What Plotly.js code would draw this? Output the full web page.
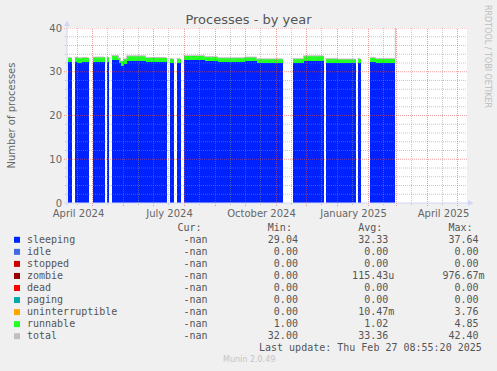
<!DOCTYPE html>
<html><head><meta charset="utf-8">
<script src="https://cdn.plot.ly/plotly-3.0.1.min.js"></script>
<style>html,body{margin:0;padding:0;background:#f0f0f0;}#chart{width:497px;height:371px;}</style>
</head><body><div id="chart"></div>
<script>
// ---------- data ----------
const chunkStart = ['2024-04-06','2024-04-13','2024-04-16','2024-04-20','2024-05-01','2024-05-15',
  '2024-05-20','2024-05-27','2024-05-29','2024-06-01','2024-06-04','2024-06-23','2024-07-17','2024-07-24',
  '2024-07-31','2024-08-21','2024-09-03','2024-09-30','2024-10-12','2024-11-17','2024-11-28','2024-12-20',
  '2025-01-01','2025-01-21','2025-02-02','2025-02-08'];
const chunkEnd = ['2024-04-10','2024-04-16','2024-04-20','2024-04-27','2024-05-13','2024-05-17',
  '2024-05-27','2024-05-29','2024-06-01','2024-06-04','2024-06-23','2024-07-14','2024-07-21','2024-07-28',
  '2024-08-21','2024-09-03','2024-09-30','2024-10-12','2024-11-07','2024-11-28','2024-12-18','2025-01-01',
  '2025-01-19','2025-01-24','2025-02-08','2025-02-27 20:00'];
const sleeping = [32.20,32.25,31.95,32.20,32.25,32.30,32.60,32.00,31.30,31.80,32.55,32.20,32.00,32.00,
  32.65,32.45,32.20,32.35,31.95,32.00,32.55,32.00,31.90,32.00,32.20,31.90];
const runnable = [1.05,1.05,1.25,1.05,1.10,1.00,1.05,1.10,1.10,1.10,1.05,1.05,1.00,1.00,
  1.05,1.00,1.00,1.00,1.00,1.00,1.05,1.00,1.00,1.00,1.05,1.00];
const total = [33.25,33.30,33.20,33.25,33.35,33.30,33.70,33.15,32.45,32.95,33.65,33.25,33.00,33.00,
  33.75,33.45,33.20,33.35,32.95,33.00,33.65,33.00,32.90,33.00,33.30,33.05];
const totalSpikeTime = '2025-02-27 20:00';
const totalSpikeValue = 42.40;

const xTickVals = ['2024-04-17','2024-07-17','2024-10-17','2025-01-17','2025-04-17'];
const xTickText = ['April 2024','July 2024','October 2024','January 2025','April 2025'];
const yTickVals = [0,10,20,30,40];
const yTickText = ['0','10','20','30','40'];

const legendLabels = ['sleeping','idle','stopped','zombie','dead','paging','uninterruptible','runnable','total'];
const legendColors = ['#0022ff','#4169e1','#cc0000','#990000','#ff0000','#00aaaa','#ffa500','#22ff22','#c0c0c0'];
const curVals = ['-nan','-nan','-nan','-nan','-nan','-nan','-nan','-nan','-nan'];
const minVals = ['29.04','0.00','0.00','0.00','0.00','0.00','0.00','1.00','32.00'];
const avgVals = ['32.33','0.00','0.00','115.43u','0.00','0.00','10.47m','1.02','33.36'];
const maxVals = ['37.64','0.00','0.00','976.67m','0.00','0.00','3.76','4.85','42.40'];
const headers = ['Cur:','Min:','Avg:','Max:'];
const lastUpdate = 'Last update: Thu Feb 27 08:55:20 2025';
const footer = 'Munin 2.0.49';
const sideText = 'RRDTOOL / TOBI OETIKER';

// ---------- layout geometry ----------
const W = 497, H = 371, ML = 67, MR = 30, MT = 28, MB = 168;
const PW = W - ML - MR, PH = H - MT - MB;
const xp = px => (px - ML) / PW;
const yp = py => (MT + PH - py) / PH;
const toMs = s => Date.parse((s.length === 10 ? s + 'T00:00' : s.replace(' ', 'T')) + ':00Z');
const X0 = '2024-04-05 12:00', X1 = '2025-05-10 12:00';

// ---------- traces ----------
const widths = chunkStart.map((s, i) => toMs(chunkEnd[i]) - toMs(s));
const barBase = {type: 'bar', x: chunkStart, width: widths, offset: 0, hoverinfo: 'skip', showlegend: false};
const tSleep = Object.assign({}, barBase, {y: sleeping, name: 'sleeping', marker: {color: legendColors[0], line: {width: 0}}});
const tRun = Object.assign({}, barBase, {y: runnable, name: 'runnable', marker: {color: legendColors[7], line: {width: 0}}});

const tx = [], ty = [];
chunkStart.forEach((s, i) => {
  tx.push(s); ty.push(total[i]);
  const last = i === chunkStart.length - 1;
  if (last || toMs(chunkEnd[i]) < toMs(chunkStart[i + 1])) {
    tx.push(chunkEnd[i]); ty.push(total[i]);
    if (!last) { tx.push(chunkEnd[i]); ty.push(null); }
  }
});
tx.push(totalSpikeTime); ty.push(totalSpikeValue);
const tTotal = {type: 'scatter', mode: 'lines', x: tx, y: ty, connectgaps: false,
  line: {color: legendColors[8], width: 1, shape: 'hv'}, hoverinfo: 'skip', showlegend: false};

// ---------- grid (drawn above the data, like rrdtool) ----------
const shapes = [];
const MAJ = 'rgba(222,79,79,0.55)', MIN = 'rgba(143,143,143,0.5)', AXC = '#cfd6f8';
const d0 = new Date(toMs(X0)), d1 = new Date(toMs(X1));
for (let y = d0.getUTCFullYear(), m = d0.getUTCMonth(); ; m++) {
  const first = Date.UTC(y, m, 1), mid = Date.UTC(y, m, 16);
  if (first > d1.getTime()) break;
  if (mid >= d0.getTime() && mid <= d1.getTime())
    shapes.push({type: 'line', layer: 'above', xref: 'x', yref: 'paper', x0: mid, x1: mid, y0: yp(MT + PH + 2), y1: 1,
      line: {color: MIN, width: 1, dash: '1px,1px'}});
  if (first >= d0.getTime())
    shapes.push({type: 'line', layer: 'above', xref: 'x', yref: 'paper', x0: first, x1: first, y0: yp(MT + PH + 3), y1: 1,
      line: {color: MAJ, width: 1, dash: '1px,1px'}});
}
for (let v = 2; v <= 40; v += 2) {
  const major = v % 10 === 0;
  shapes.push({type: 'line', layer: 'above', xref: 'paper', yref: 'y', x0: xp(ML - (major ? 3 : 2)), x1: 1, y0: v, y1: v,
    line: {color: major ? MAJ : MIN, width: 1, dash: '1px,1px'}});
}
// axes with arrows
shapes.push({type: 'line', layer: 'above', xref: 'paper', yref: 'paper', x0: xp(67), x1: xp(67), y0: yp(MT + PH + 3), y1: yp(25),
  line: {color: AXC, width: 1}});
shapes.push({type: 'path', layer: 'above', xref: 'paper', yref: 'paper',
  path: `M${xp(64)},${yp(26)} L${xp(67)},${yp(20.5)} L${xp(70)},${yp(26)} Z`, fillcolor: AXC, line: {color: AXC, width: 0}});
shapes.push({type: 'line', layer: 'above', xref: 'paper', yref: 'paper', x0: xp(64), x1: xp(469), y0: 0, y1: 0,
  line: {color: AXC, width: 1}});
shapes.push({type: 'path', layer: 'above', xref: 'paper', yref: 'paper',
  path: `M${xp(468)},${yp(200)} L${xp(473.5)},${yp(203)} L${xp(468)},${yp(206)} Z`, fillcolor: AXC, line: {color: AXC, width: 0}});

// ---------- legend (rrdtool style) ----------
const NB = '\u00A0';
function buildRow(label, vals, ends) {
  let s = label;
  vals.forEach((v, i) => {
    let num = v, suf = ' ';
    if (v !== '-nan' && /[a-z]$/.test(v)) { num = v.slice(0, -1); suf = v.slice(-1); }
    s = s.padEnd(ends[i] - num.length, ' ') + num + suf;
  });
  return s.replace(/ /g, NB);
}
const mono = {family: 'DejaVu Sans Mono', size: 10, color: '#555555'};
const annotations = [];
const textX = 26.2;
annotations.push({xref: 'paper', yref: 'paper', x: xp(textX), y: yp(227.3), xanchor: 'left', yanchor: 'middle',
  text: buildRow('', headers, [29, 44, 59, 74]).replace(/\u00A0+$/, ''), showarrow: false, borderpad: 0, font: mono});
legendLabels.forEach((lab, i) => {
  const cy = 239.3 + 12.05 * i;
  annotations.push({xref: 'paper', yref: 'paper', x: xp(textX), y: yp(cy), xanchor: 'left', yanchor: 'middle',
    text: buildRow(lab, [curVals[i], minVals[i], avgVals[i], maxVals[i]], [30, 45, 60, 75]),
    showarrow: false, borderpad: 0, font: mono});
  shapes.push({type: 'rect', xref: 'paper', yref: 'paper', x0: xp(14), x1: xp(20), y0: yp(cy + 3.5), y1: yp(cy - 2.5),
    fillcolor: legendColors[i], line: {width: 0}});
});
annotations.push({xref: 'paper', yref: 'paper', x: xp(482.7), y: yp(347.7), xanchor: 'right', yanchor: 'middle',
  text: lastUpdate, showarrow: false, borderpad: 0, font: mono});
annotations.push({xref: 'paper', yref: 'paper', x: xp(249), y: yp(359.3), xanchor: 'center', yanchor: 'middle',
  text: footer, showarrow: false, borderpad: 0, font: {family: 'DejaVu Sans', size: 8, color: '#c4c4c4'}});
annotations.push({xref: 'paper', yref: 'paper', x: xp(11), y: yp(115.5), xanchor: 'center', yanchor: 'middle', textangle: -90,
  text: 'Number of processes', showarrow: false, borderpad: 0, font: {family: 'DejaVu Sans', size: 10, color: '#666666'}});
annotations.push({xref: 'paper', yref: 'paper', x: xp(488), y: yp(56), xanchor: 'center', yanchor: 'middle', textangle: 90,
  text: sideText, showarrow: false, borderpad: 0, font: {family: 'DejaVu Sans', size: 8, color: '#bdbdbd'}});

const layout = {
  width: W, height: H,
  margin: {l: ML, r: MR, t: MT, b: MB, pad: 0},
  paper_bgcolor: '#f0f0f0', plot_bgcolor: '#ffffff',
  barmode: 'stack', bargap: 0,
  showlegend: false, hovermode: false, dragmode: false,
  title: {text: 'Processes - by year', x: 0.5, xref: 'container', xanchor: 'center',
    y: 1 - 19 / H, yref: 'container', yanchor: 'middle',
    font: {family: 'DejaVu Sans', size: 13, color: '#555555'}},
  xaxis: {type: 'date', range: [X0, X1], tickmode: 'array', tickvals: xTickVals, ticktext: xTickText,
    showgrid: false, zeroline: false, showline: false, ticks: '', fixedrange: true, ticklabelstandoff: 3,
    tickfont: {family: 'DejaVu Sans', size: 10, color: '#666666'}},
  yaxis: {range: [0, 40], tickmode: 'array', tickvals: yTickVals, ticktext: yTickText,
    showgrid: false, zeroline: false, showline: false, ticks: '', fixedrange: true, ticklabelstandoff: 4,
    tickfont: {family: 'DejaVu Sans', size: 10, color: '#666666'}},
  shapes: shapes, annotations: annotations
};

Plotly.newPlot('chart', [tSleep, tRun, tTotal], layout, {staticPlot: true, displayModeBar: false});
</script>
</body></html>
